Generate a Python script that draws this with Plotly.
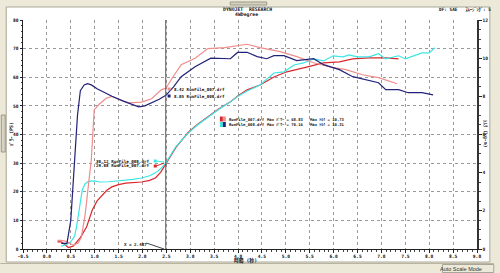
import plotly.graph_objects as go

# ---------------- data ----------------
t_pow_007 = [0.22,0.30,0.38,0.45,0.55,0.62,0.70,0.83,0.95,1.05,1.16,1.26,1.36,1.50,1.65,1.80,1.98,2.15,2.27,2.38,2.49,2.70,2.95,3.15,3.37,3.60,3.84,4.00,4.19,4.46,4.75,5.02,5.37,5.79,6.12,6.40,6.74,7.09,7.36]
pow_007   = [2.5,2.5,1.5,0.5,1.0,2.5,4.0,7.7,13.6,16.8,18.9,20.6,21.7,22.5,23.0,23.2,23.4,24.0,24.8,26.8,29.9,35.5,40.6,43.5,46.2,49.0,51.4,53.5,55.6,57.3,60.1,61.9,63.3,65.0,65.4,66.4,66.8,66.8,66.4]

t_pow_008 = [0.30,0.40,0.50,0.58,0.62,0.68,0.74,0.80,0.87,1.00,1.10,1.30,1.57,1.80,1.98,2.15,2.27,2.38,2.49,2.70,2.95,3.15,3.37,3.60,3.84,4.00,4.19,4.46,4.75,4.96,5.17,5.37,5.58,5.79,5.99,6.20,6.32,6.50,6.74,6.94,7.09,7.23,7.36,7.50,7.70,7.85,8.00,8.12]
pow_008   = [1.0,1.5,2.5,4.5,7.7,14.0,20.6,22.8,23.6,23.8,23.4,23.5,23.8,24.3,24.8,25.6,26.6,28.0,30.1,35.8,40.4,43.3,46.0,48.8,51.4,53.4,55.2,57.3,61.5,61.9,64.3,65.0,66.4,65.7,67.5,67.1,67.8,67.1,67.1,68.2,66.4,67.1,67.5,66.4,67.5,68.5,68.5,70.3]

t_trq_007 = [0.22,0.30,0.40,0.55,0.65,0.72,0.80,0.87,0.93,0.99,1.10,1.24,1.36,1.50,1.71,1.98,2.19,2.40,2.49,2.60,2.81,3.10,3.37,3.72,4.00,4.19,4.46,4.88,5.23,5.58,5.99,6.26,6.60,6.94,7.33]
trq_007   = [0.45,0.45,0.4,0.2,0.3,0.6,1.8,3.2,4.7,7.3,7.6,7.9,8.0,7.85,7.66,7.7,7.87,8.35,8.42,8.87,9.66,10.0,10.5,10.55,10.65,10.73,10.55,10.34,10.08,9.76,9.5,9.4,9.13,8.98,8.66]

t_trq_008 = [0.30,0.42,0.50,0.58,0.64,0.70,0.78,0.85,0.93,1.05,1.20,1.36,1.60,1.92,2.05,2.19,2.35,2.49,2.65,2.81,3.10,3.43,3.65,3.84,3.99,4.19,4.40,4.60,4.75,4.96,5.23,5.58,5.79,6.12,6.40,6.67,6.94,7.09,7.36,7.56,7.85,8.08]
trq_008   = [0.3,0.3,1.5,4.7,7.0,8.3,8.6,8.66,8.6,8.4,8.2,8.0,7.75,7.45,7.5,7.66,7.85,8.05,8.5,9.03,9.55,10.0,10.0,9.97,10.3,10.31,10.08,9.97,10.13,10.13,9.87,9.97,9.66,9.4,9.03,8.87,8.71,8.35,8.35,8.19,8.19,8.08]

x_ticks = [-0.5,0.0,0.5,1.0,1.5,2.0,2.5,3.0,3.5,4.0,4.5,5.0,5.5,6.0,6.5,7.0,7.5,8.0,8.5,9.0]
y_ticks_left = [0,10,20,30,40,50,60,70,80]
y_ticks_right = [0,2,4,6,8,10,12]
cursor_x = 2.487

files = ["RunFile_007.drf", "RunFile_008.drf"]
max_pow = [68.83, 70.16]
max_trq = [10.73, 10.31]
cursor_trq = [8.42, 8.05]
cursor_pow = [29.88, 30.12]

# ---------------- styles ----------------
C_RED = "#D8282C"
C_PINK = "#F08C8C"
C_CYAN = "#3CE6E6"
C_BLUE = "#22227A"
MONO = "DejaVu Sans Mono, Noto Sans CJK JP"
BG = "#ECE9D8"

W, H = 500, 273
L, R, T, B = 23, 483, 20, 249


def px(x):
    return (x - L) / (R - L)


def py(y):
    return (B - y) / (B - T)


fig = go.Figure()
fig.add_trace(go.Scatter(x=t_pow_007, y=pow_007, mode="lines", line=dict(color=C_RED, width=1.2), yaxis="y"))
fig.add_trace(go.Scatter(x=t_pow_008, y=pow_008, mode="lines", line=dict(color=C_CYAN, width=1.2), yaxis="y"))
fig.add_trace(go.Scatter(x=t_trq_007, y=trq_007, mode="lines", line=dict(color=C_PINK, width=1.2), yaxis="y2"))
fig.add_trace(go.Scatter(x=t_trq_008, y=trq_008, mode="lines", line=dict(color=C_BLUE, width=1.2), yaxis="y2"))

shapes = []
shapes.append(dict(type="rect", xref="paper", yref="paper", x0=px(6), x1=px(496), y0=py(262), y1=py(7),
                   fillcolor="white", line=dict(color="#A8A698", width=1), layer="below"))
shapes.append(dict(type="line", xref="paper", yref="paper", x0=px(0), x1=px(500), y0=py(263.5), y1=py(263.5),
                   line=dict(color="#B8B4A0", width=1)))
shapes.append(dict(type="rect", xref="paper", yref="paper", x0=px(448), x1=px(500), y0=py(272.5), y1=py(264.5),
                   fillcolor=BG, line=dict(color="#A8A698", width=1)))
shapes.append(dict(type="rect", xref="paper", yref="paper", x0=px(1), x1=px(5), y0=py(152), y1=py(115),
                   fillcolor="#D6D3C2", line=dict(color="#9C9888", width=1)))
shapes.append(dict(type="rect", xref="paper", yref="paper", x0=px(233), x1=px(270), y0=py(5), y1=py(2),
                   fillcolor="#D6D3C2", line=dict(color="#9C9888", width=1)))
shapes.append(dict(type="line", xref="x", yref="paper", x0=cursor_x, x1=cursor_x, y0=0, y1=1,
                   line=dict(color="#555555", width=1)))
shapes.append(dict(type="line", xref="paper", yref="paper", x0=px(148), x1=px(166), y0=py(243), y1=py(249),
                   line=dict(color="#444444", width=1)))
leg_cols = [(C_RED, C_PINK), (C_CYAN, C_BLUE)]
for i, (c1, c2) in enumerate(leg_cols):
    y0 = 116.5 + i * 5.5
    shapes.append(dict(type="rect", xref="paper", yref="paper", x0=px(222.5), x1=px(225.5), y0=py(y0 + 5), y1=py(y0),
                       fillcolor=c1, line=dict(width=0)))
    shapes.append(dict(type="rect", xref="paper", yref="paper", x0=px(225.5), x1=px(228.5), y0=py(y0 + 5), y1=py(y0),
                       fillcolor=c2, line=dict(width=0)))
for (xx, yy, c) in [(171, 89, C_PINK), (171, 96, C_BLUE), (157, 161, C_CYAN), (157, 166, C_RED)]:
    shapes.append(dict(type="rect", xref="paper", yref="paper", x0=px(xx - 1.5), x1=px(xx + 1.5), y0=py(yy + 1.5), y1=py(yy - 1.5),
                       fillcolor=c, line=dict(width=0)))
shapes.append(dict(type="line", xref="paper", yref="paper", x0=px(158), x1=px(166), y0=py(161), y1=py(162), line=dict(color=C_CYAN, width=1)))
shapes.append(dict(type="line", xref="paper", yref="paper", x0=px(158), x1=px(166), y0=py(166), y1=py(163), line=dict(color=C_RED, width=1)))

ann = []


def txt(x, y, s, size=3.9, anchor="left", color="#111111", angle=0, family=MONO, weight="bold"):
    ann.append(dict(x=px(x), y=py(y), xref="paper", yref="paper", text=s, showarrow=False,
                    xanchor=anchor, yanchor="middle", textangle=angle,
                    font=dict(family=family, size=size, color=color, weight=weight)))


txt(250, 9, "DYNOJET  RESEARCH", size=4.8, anchor="center")
txt(249, 14.5, "4WDegree", size=4.8, anchor="center")
txt(499, 9.5, "DF: SAE   ｽﾑｰｼﾞﾝｸﾞ: 5", size=4.4, anchor="right")
txt(12, 134, "ﾊﾟﾜｰ (PS)", size=4.8, angle=-90, anchor="center")
txt(492, 134, "ﾄﾙｸ (kg-m)", size=4.8, angle=90, anchor="center")
txt(248, 260, "時間 (秒)", size=4.8, anchor="center")
txt(467, 268.5, "Auto Scale Mode", anchor="center", family="Liberation Sans, Arial", weight="normal", size=5.5, color="#333333")
txt(137, 244, "X = %.3f" % cursor_x, size=4.2, anchor="center")
for i in range(2):
    yy = 119 + i * 5.8
    txt(229.5, yy, files[i])
    txt(268, yy, "Max ﾊﾟﾜｰ = %.2f" % max_pow[i])
    txt(312, yy, "Max ﾄﾙｸ = %.2f" % max_trq[i])
txt(174, 89, "%.2f %s" % (cursor_trq[0], files[0]), size=4.2)
txt(174, 96, "%.2f %s" % (cursor_trq[1], files[1]), size=4.2)
txt(153, 161, "%.2f %s" % (cursor_pow[1], files[1]), size=4.2, anchor="right")
txt(153, 166, "%.2f %s" % (cursor_pow[0], files[0]), size=4.2, anchor="right")

tickfont = dict(family=MONO, size=4.6, color="#111111", weight="bold")
fig.update_layout(
    width=W, height=H,
    margin=dict(l=L, r=W - R, t=T, b=H - B, pad=0),
    paper_bgcolor=BG, plot_bgcolor="rgba(0,0,0,0)",
    showlegend=False,
    shapes=shapes, annotations=ann,
    xaxis=dict(range=[-0.5, 9.0], tickvals=x_ticks, ticktext=["%.1f" % v for v in x_ticks],
               showgrid=True, gridcolor="#9A9A9A", griddash="dot", gridwidth=1,
               showline=True, linecolor="#222222", linewidth=1, zeroline=False,
               ticks="outside", ticklen=2.5, tickcolor="#222222",
               minor=dict(dtick=0.1, ticks="outside", ticklen=1.5, tickcolor="#444444", showgrid=False),
               tickfont=tickfont),
    yaxis=dict(range=[0, 80], tickvals=y_ticks_left, ticktext=[str(v) for v in y_ticks_left],
               showgrid=True, gridcolor="#9A9A9A", griddash="dot", gridwidth=1,
               showline=True, linecolor="#222222", linewidth=1, zeroline=False,
               ticks="outside", ticklen=2.5, tickcolor="#222222",
               minor=dict(dtick=2, ticks="outside", ticklen=1.5, tickcolor="#444444", showgrid=False),
               tickfont=tickfont),
    yaxis2=dict(range=[0, 12], overlaying="y", side="right", tickvals=y_ticks_right,
                ticktext=[str(v) for v in y_ticks_right], showgrid=False,
                showline=True, linecolor="#333333", linewidth=2, zeroline=False,
                ticks="outside", ticklen=2.5, tickcolor="#222222",
                minor=dict(dtick=0.5, ticks="outside", ticklen=1.5, tickcolor="#444444"),
                tickfont=tickfont),
)

fig.write_html("out.html")
